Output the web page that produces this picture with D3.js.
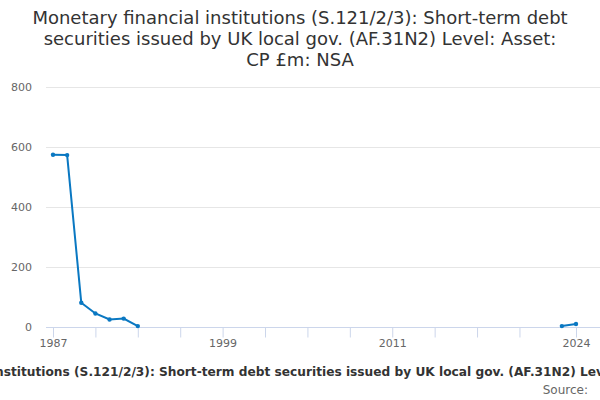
<!DOCTYPE html>
<meta charset="utf-8">
<html>
<head>
<title>MFI short-term debt</title>
<style>
    body {
        margin: 0;
        background: #fff;
        font-family: "DejaVu Sans", sans-serif;
    }
</style>
<script src="https://d3js.org/d3.v7.min.js"></script>
</head>
<body>
<div id="chart"></div>

<script>

// the data
var years = [1987, 1988, 1989, 1990, 1991, 1992, 1993, 1994, 2022, 2023, 2024];
var values = [574, 573, 81, 45, 25, 28, 3, null, null, 3, 10];
var yTicks = [0, 200, 400, 600, 800];
var xLabels = [1987, 1999, 2011, 2024];
var xTicks = [1987, 1990, 1993, 1996, 1999, 2002, 2005, 2008, 2011, 2014, 2017, 2020, 2024];

var titleLines = [
  "Monetary financial institutions (S.121/2/3): Short-term debt",
  "securities issued by UK local gov. (AF.31N2) Level: Asset:",
  "CP £m: NSA"
];
var bottomLabel = "Monetary financial institutions (S.121/2/3): Short-term debt securities issued by UK local gov. (AF.31N2) Level: Asset: CP £m: NSA";

var W = 600, H = 400;
var margin = {top: 87, right: 24, bottom: 73, left: 53};

var svg = d3.select("#chart")
  .append("svg")
    .attr("width", W)
    .attr("height", H);

// title
svg.append("g").selectAll("text")
    .data(titleLines)
  .enter().append("text")
    .attr("x", W / 2)
    .attr("y", function(d, i) { return 24 + i * 21; })
    .attr("text-anchor", "middle")
    .style("font-size", "18px")
    .style("fill", "#333")
    .text(function(d) { return d; });

// scales
var x = d3.scaleLinear().domain([1987, 2024]).range([margin.left, W - margin.right]);
var y = d3.scaleLinear().domain([0, 800]).range([H - margin.bottom, margin.top]);

// grid lines
svg.append("g").selectAll("line")
    .data(yTicks.filter(function(d) { return d > 0; }))
  .enter().append("line")
    .attr("x1", 46).attr("x2", W)
    .attr("y1", function(d) { return y(d) + 0.5; })
    .attr("y2", function(d) { return y(d) + 0.5; })
    .style("stroke", "#e6e6e6");

// y labels
svg.append("g").selectAll("text")
    .data(yTicks)
  .enter().append("text")
    .attr("x", 32)
    .attr("y", function(d) { return y(d) + 4; })
    .attr("text-anchor", "end")
    .style("font-size", "11px")
    .style("fill", "#666")
    .text(function(d) { return d; });

// x axis
var xAxis = svg.append("g")
    .attr("transform", "translate(0," + (y(0) + 0.5) + ")")
    .call(d3.axisBottom(x).tickValues(xTicks).tickSize(10).tickFormat(function(d) {
      return xLabels.indexOf(d) >= 0 ? d : "";
    }));
xAxis.select(".domain").attr("d", "M46,0H" + W).style("stroke", "#ccd6eb");
xAxis.selectAll(".tick line").style("stroke", "#ccd6eb");
xAxis.selectAll(".tick text")
    .attr("y", 12)
    .style("font-family", "DejaVu Sans, sans-serif")
    .style("font-size", "11px")
    .style("fill", "#666");

// line
var pts = years.map(function(d, i) { return {year: d, value: values[i]}; });
var line = d3.line()
    .defined(function(d) { return d.value != null; })
    .x(function(d) { return x(d.year); })
    .y(function(d) { return y(d.value); });

svg.append("path")
    .datum(pts)
    .attr("fill", "none")
    .style("stroke", "#0a78c2")
    .style("stroke-width", 2)
    .attr("d", line);

svg.append("g").selectAll("circle")
    .data(pts.filter(function(d) { return d.value != null; }))
  .enter().append("circle")
    .attr("cx", function(d) { return x(d.year); })
    .attr("cy", function(d) { return y(d.value); })
    .attr("r", 2.2)
    .style("fill", "#0a78c2");

// bottom label (runs off both edges, as in the original) and source
svg.append("text")
    .attr("x", 306)
    .attr("y", 376)
    .attr("text-anchor", "middle")
    .style("font-size", "12.2px")
    .style("font-weight", "bold")
    .style("fill", "#333")
    .text(bottomLabel);

svg.append("text")
    .attr("x", 588)
    .attr("y", 394)
    .attr("text-anchor", "end")
    .style("font-size", "12px")
    .style("fill", "#666")
    .text("Source:");

</script>
</body>
</html>
